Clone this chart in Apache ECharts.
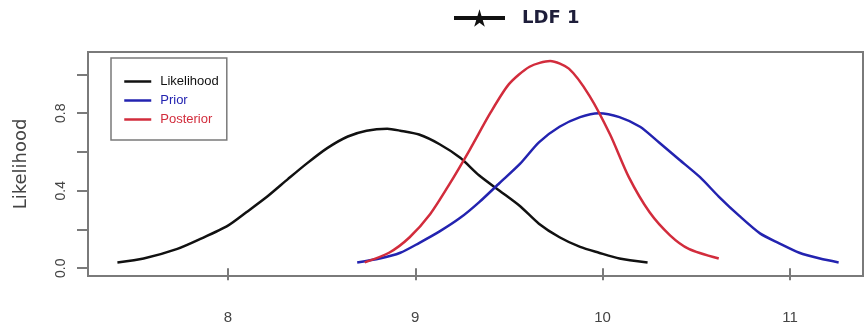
<!DOCTYPE html>
<html>
<head>
<meta charset="utf-8">
<script src="https://cdn.jsdelivr.net/npm/echarts@6/dist/echarts.min.js"></script>
<style>
  html, body { margin: 0; padding: 0; background: #fff; }
  #chart { width: 865px; height: 327px; }
</style>
</head>
<body>
<div id="chart"></div>
<script>
// Likelihood curve
const likeX = [7.41, 7.55, 7.73, 7.85, 8.00, 8.10, 8.21, 8.32, 8.42, 8.53, 8.64, 8.74, 8.85,
               8.92, 9.02, 9.13, 9.24, 9.34, 9.45, 9.56, 9.66, 9.77, 9.88, 9.98, 10.09, 10.24];
const likeY = [0.03, 0.05, 0.10, 0.15, 0.22, 0.29, 0.37, 0.46, 0.54, 0.62, 0.68, 0.71, 0.72,
               0.71, 0.69, 0.64, 0.57, 0.48, 0.40, 0.32, 0.23, 0.16, 0.11, 0.08, 0.05, 0.03];

// Prior curve
const priorX = [8.69, 8.81, 8.92, 9.02, 9.13, 9.24, 9.34, 9.45, 9.56, 9.66, 9.77, 9.88, 9.98,
                10.09, 10.20, 10.30, 10.41, 10.52, 10.62, 10.73, 10.84, 10.94, 11.05, 11.16, 11.26];
const priorY = [0.03, 0.05, 0.08, 0.13, 0.19, 0.26, 0.34, 0.44, 0.54, 0.65, 0.73, 0.78, 0.80,
                0.78, 0.73, 0.65, 0.56, 0.47, 0.37, 0.27, 0.18, 0.13, 0.08, 0.05, 0.03];

// Posterior curve
const postX = [8.73, 8.86, 8.97, 9.08, 9.18, 9.29, 9.40, 9.50, 9.61, 9.72, 9.82, 9.93,
               10.04, 10.14, 10.25, 10.36, 10.46, 10.62];
const postY = [0.03, 0.08, 0.16, 0.28, 0.43, 0.61, 0.80, 0.95, 1.04, 1.07, 1.03, 0.89,
               0.69, 0.47, 0.29, 0.17, 0.10, 0.05];

// Axis ticks
const xTicks = [8, 9, 10, 11];
const yTicks = [0, 0.2, 0.4, 0.6, 0.8, 1.0];
const yLabels = [0, 0.4, 0.8];

const seriesNames = ['Likelihood', 'Prior', 'Posterior'];
const seriesColors = ['#111111', '#2323b0', '#d22c3c'];
const headerName = 'LDF 1';

const pairs = (xs, ys) => xs.map((x, i) => [x, ys[i]]);
const curves = [pairs(likeX, likeY), pairs(priorX, priorY), pairs(postX, postY)];

const starPath = 'path://M50,0 L61,35 L98,35 L68,57 L79,91 L50,70 L21,91 L32,57 L2,35 L39,35 Z';

const chart = echarts.init(document.getElementById('chart'), null, { renderer: 'canvas' });

const axisGray = '#7a7a7a';
const textGray = '#444444';

chart.setOption({
  animation: false,
  backgroundColor: '#ffffff',
  grid: {
    left: 88, right: 2, top: 52, bottom: 51,
    show: true, borderColor: axisGray, borderWidth: 2, backgroundColor: 'transparent'
  },
  legend: [
    {
      data: [headerName],
      left: 447, top: 4,
      itemWidth: 51, itemHeight: 22,
      lineStyle: { width: 4 },
      textStyle: {
        fontFamily: 'DejaVu Sans', fontWeight: 'bold', fontSize: 18,
        color: '#1e1e3a', padding: [0, 0, 0, 12]
      }
    },
    {
      data: seriesNames.map((n, i) => ({ name: n, textStyle: { color: seriesColors[i] } })),
      orient: 'vertical',
      left: 111, top: 58,
      padding: [17, 8, 14, 12],
      itemGap: 6,
      itemWidth: 27, itemHeight: 14,
      itemStyle: { opacity: 0 },
      lineStyle: { width: 2.5 },
      borderColor: axisGray, borderWidth: 1.5, borderRadius: 0,
      textStyle: { fontFamily: 'Liberation Sans', fontSize: 13, padding: [0, 0, 0, 4] }
    }
  ],
  xAxis: {
    type: 'value', min: 7.253, max: 11.39,
    splitLine: { show: false },
    axisLine: { show: false },
    axisTick: {
      show: true, length: 12, lineStyle: { color: axisGray, width: 2 },
      customValues: xTicks
    },
    axisLabel: {
      customValues: xTicks, margin: 34,
      fontFamily: 'Liberation Sans', fontSize: 15, color: textGray
    }
  },
  yAxis: {
    type: 'value', min: -0.04, max: 1.116,
    name: 'Likelihood', nameLocation: 'middle', nameGap: 58, nameRotate: 90,
    nameTextStyle: { fontFamily: 'DejaVu Sans', fontSize: 18, color: textGray },
    splitLine: { show: false },
    axisLine: { show: false },
    axisTick: {
      show: true, length: 11, lineStyle: { color: axisGray, width: 2 },
      customValues: yTicks
    },
    axisLabel: {
      customValues: yLabels, rotate: 90, margin: 20,
      formatter: v => v.toFixed(1),
      fontFamily: 'Liberation Sans', fontSize: 14, color: textGray
    }
  },
  series: [
    {
      name: headerName, type: 'line', data: [],
      symbol: starPath, symbolSize: 16,
      itemStyle: { color: '#111111' },
      lineStyle: { color: '#111111', width: 4 }
    },
    ...seriesNames.map((n, i) => ({
      name: n, type: 'line', data: curves[i],
      showSymbol: false, symbol: 'none', smooth: 0.25,
      itemStyle: { color: seriesColors[i] },
      lineStyle: { color: seriesColors[i], width: 2.5 }
    }))
  ]
});
</script>
</body>
</html>
